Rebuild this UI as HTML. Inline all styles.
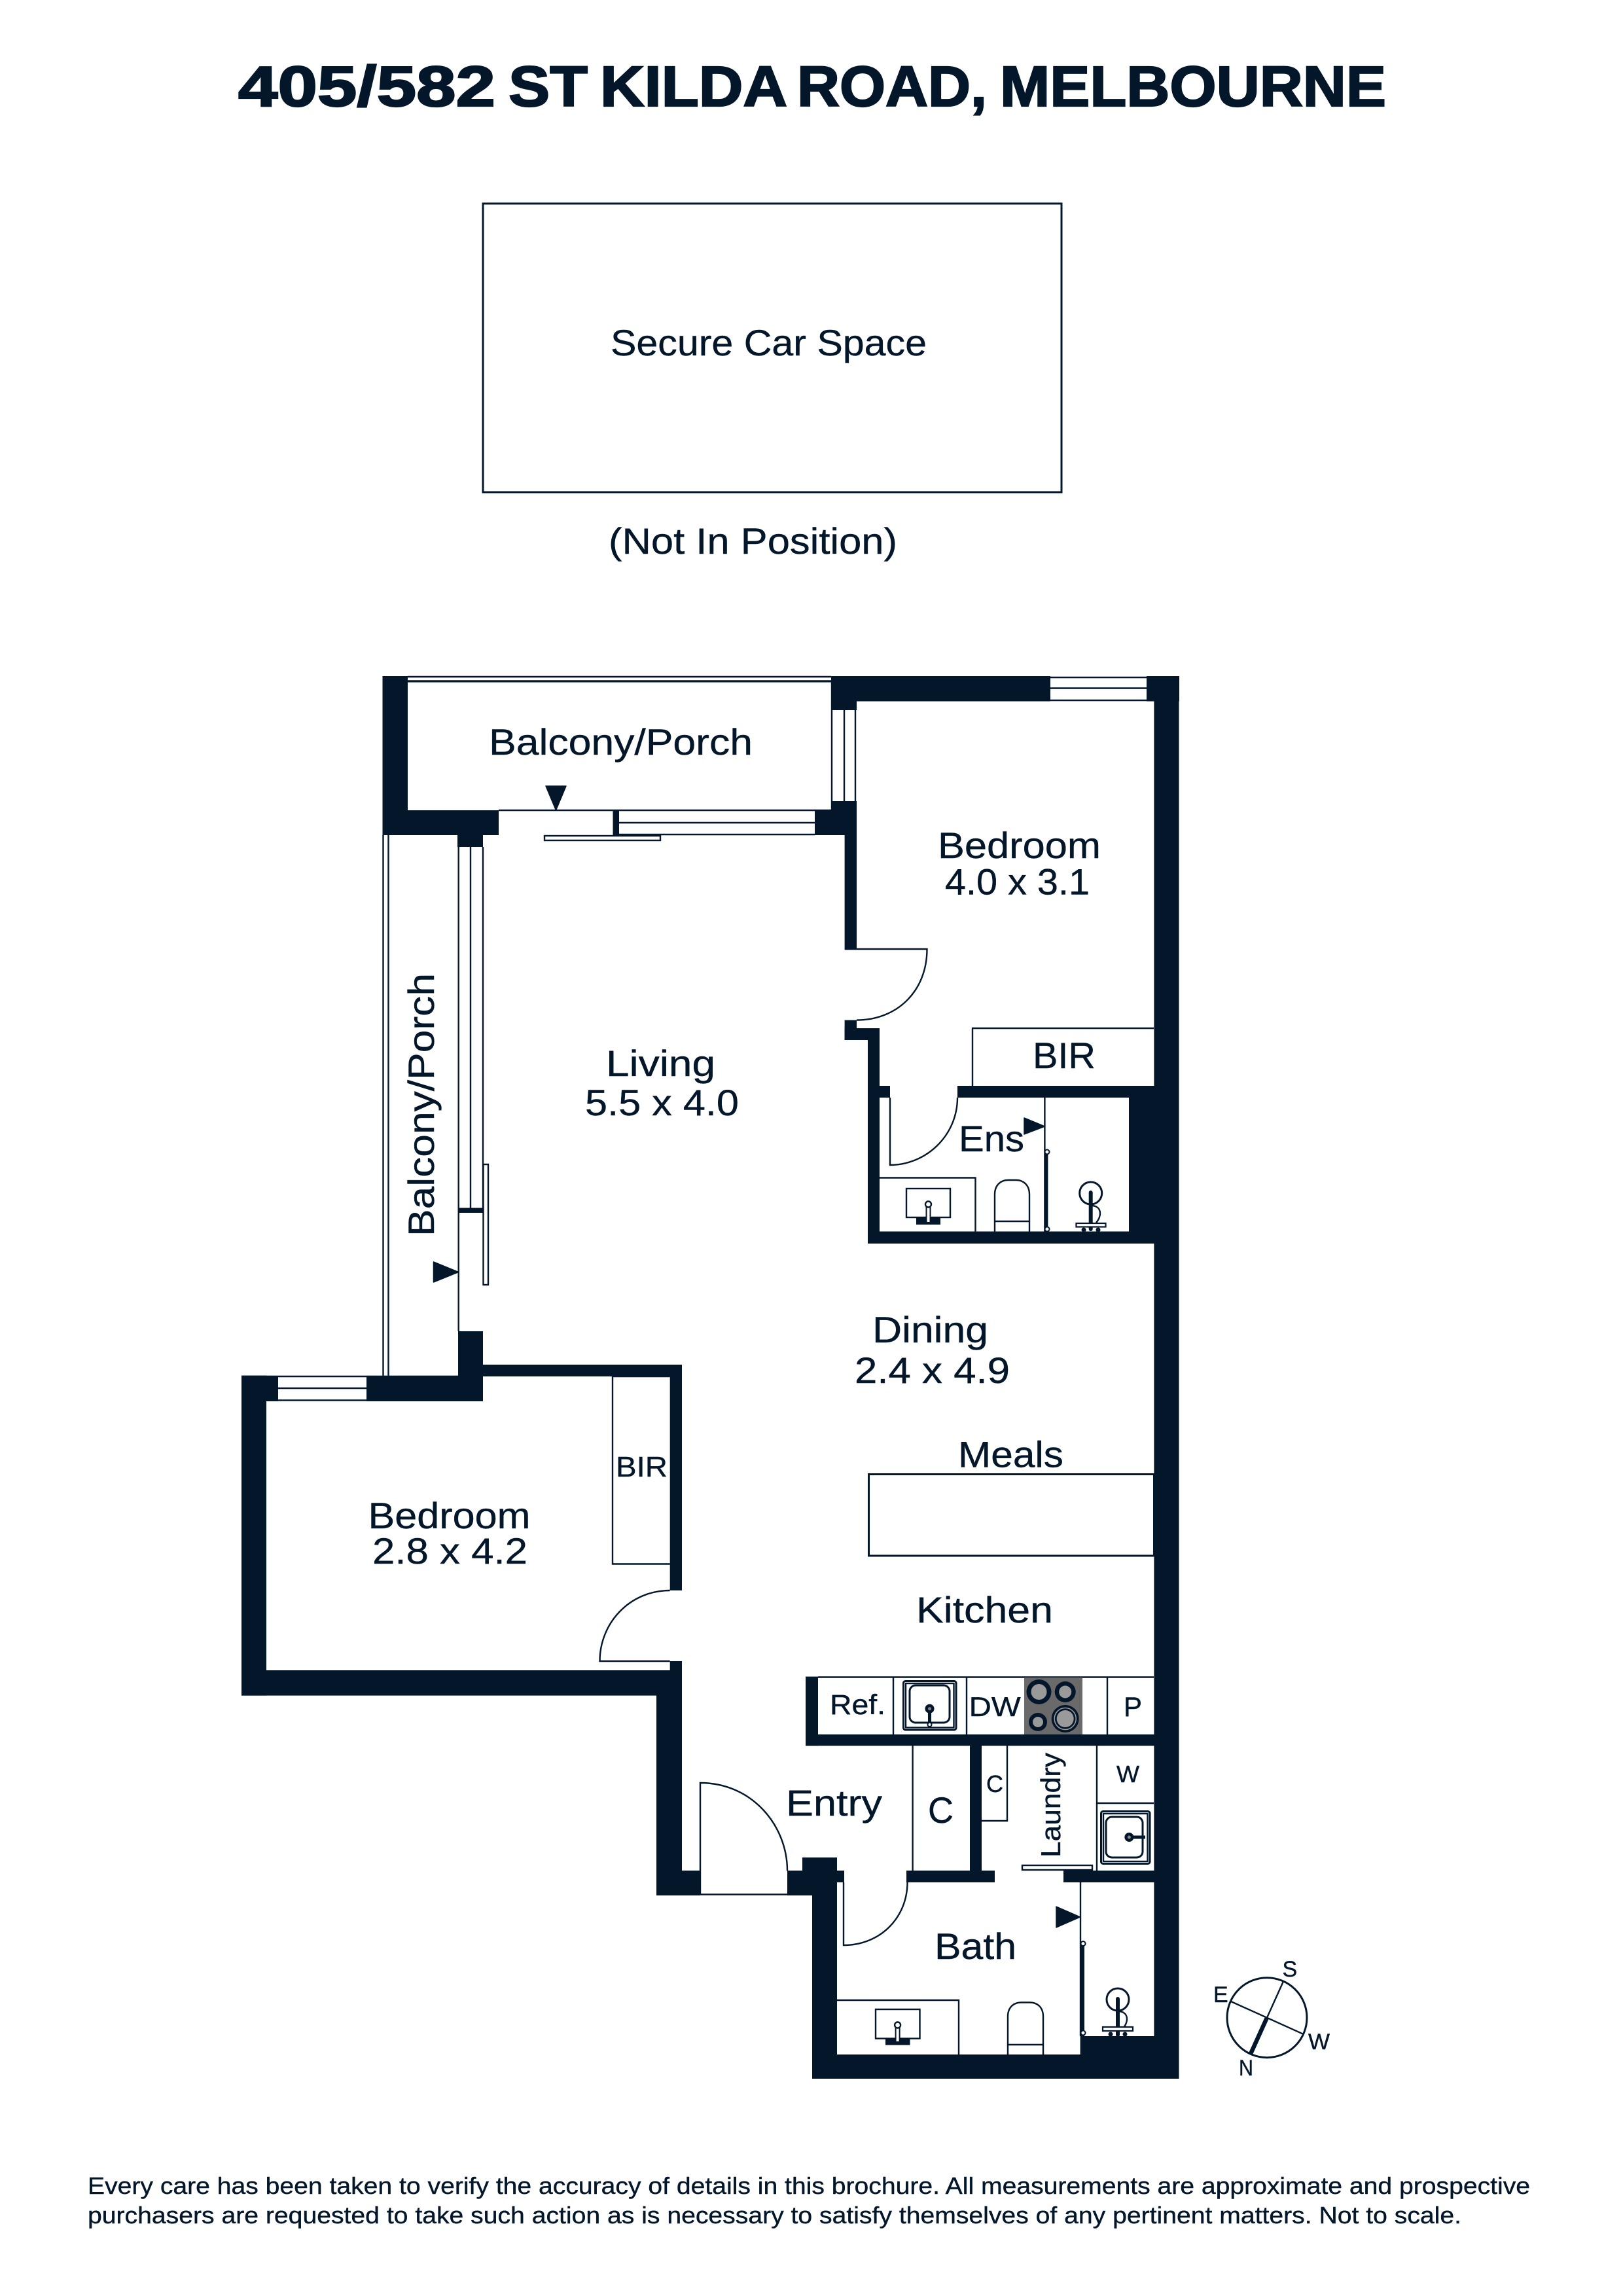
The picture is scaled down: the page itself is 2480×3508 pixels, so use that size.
<!DOCTYPE html>
<html><head><meta charset="utf-8"><title>405/582 St Kilda Road, Melbourne</title>
<style>
html,body{margin:0;padding:0;background:#fff;width:2480px;height:3508px;overflow:hidden}
svg{display:block}
text{font-family:"Liberation Sans",sans-serif;fill:#04172a;stroke:#04172a;stroke-width:.4}
.w rect{fill:#04172a}
.l{fill:none;stroke:#04172a;stroke-width:3}
.t{fill:none;stroke:#04172a;stroke-width:2.4}
</style></head><body>
<svg xmlns="http://www.w3.org/2000/svg" width="2480" height="3508" viewBox="0 0 2480 3508">
<rect width="2480" height="3508" fill="#fff"/>
<g font-size="87" font-weight="700" style="stroke-width:2.2">
<text x="364" y="162" textLength="393" lengthAdjust="spacingAndGlyphs" style="stroke-width:2.2">405/582</text>
<text x="777" y="162" textLength="121" lengthAdjust="spacingAndGlyphs" style="stroke-width:2.2">ST</text>
<text x="917" y="162" textLength="286" lengthAdjust="spacingAndGlyphs" style="stroke-width:2.2">KILDA</text>
<text x="1218" y="162" textLength="290" lengthAdjust="spacingAndGlyphs" style="stroke-width:2.2">ROAD,</text>
<text x="1528" y="162" textLength="590" lengthAdjust="spacingAndGlyphs" style="stroke-width:2.2">MELBOURNE</text>
</g>
<rect class="l" x="738" y="311" width="884" height="441"/>
<text x="933" y="543" font-size="56" textLength="483" lengthAdjust="spacingAndGlyphs">Secure Car Space</text>
<text x="930" y="846" font-size="56" textLength="441" lengthAdjust="spacingAndGlyphs">(Not In Position)</text>

<g class="w">
<rect x="584.5" y="1033" width="38.5" height="243"/>
<rect x="584.5" y="1238" width="177.5" height="38"/>
<rect x="699" y="1270" width="39" height="24"/>
<rect x="1270" y="1033" width="335" height="38.5"/>
<rect x="1752" y="1033" width="50" height="38.5"/>
<rect x="1270" y="1033" width="39" height="52"/>
<rect x="1270" y="1224" width="39" height="52"/>
<rect x="1245" y="1238" width="64" height="38"/>
<rect x="1290.6" y="1270" width="18.4" height="180"/>
<rect x="1763.4" y="1033" width="38.1" height="2143"/>
<rect x="1290.6" y="1558.6" width="18.4" height="30.4"/>
<rect x="1290.6" y="1571" width="53.4" height="18"/>
<rect x="1326" y="1580" width="18" height="320"/>
<rect x="1326" y="1881.5" width="445" height="18.5"/>
<rect x="1340" y="1659" width="20" height="18"/>
<rect x="1463" y="1659" width="305" height="18"/>
<rect x="1725" y="1659" width="45" height="230"/>

<rect x="700" y="2034" width="38" height="107"/>
<rect x="560" y="2101.7" width="178" height="39.3"/>
<rect x="369" y="2101.7" width="56" height="39.3"/>
<rect x="730" y="2085" width="312" height="18"/>
<rect x="1023.7" y="2085" width="18.3" height="345"/>
<rect x="369" y="2101.7" width="38" height="488.9"/>
<rect x="369" y="2552" width="673" height="38.6"/>
<rect x="1023.7" y="2538" width="18.3" height="20"/>
<rect x="1003" y="2585" width="39" height="311"/>
<rect x="1003" y="2858" width="67" height="38"/>
<rect x="1203" y="2858" width="45" height="38"/>
<rect x="1226" y="2838" width="53" height="30"/>
<rect x="1241" y="2858" width="38" height="318"/>
<rect x="1270" y="2858" width="20" height="18"/>
<rect x="1241" y="3139" width="560.5" height="37"/>
<rect x="1650.6" y="3111" width="120" height="35"/>
<rect x="1385" y="2858" width="135" height="18"/>
<rect x="1625" y="2858" width="145" height="18"/>
<rect x="1231" y="2561.6" width="19" height="105.8"/>
<rect x="1231" y="2650" width="538" height="17.4"/>
<rect x="1482" y="2660" width="18" height="205"/>
</g>

<!-- balcony glazing -->
<path class="t" d="M623 1034H1270M623 1040.5H1270"/>
<path class="l" d="M623 1041H1270" stroke-width="2"/>
<path class="t" d="M1271 1041V1238H762"/>
<path class="t" d="M1290 1085V1224M1307 1085V1224"/>
<rect x="936.5" y="1238" width="9.5" height="38" fill="#04172a"/>
<path class="t" d="M946 1257H1245M946 1275H1245"/>
<rect class="t" x="832" y="1277" width="177" height="7"/>
<path d="M834 1201H865L849.5 1238Z" fill="#04172a" stroke="#04172a" stroke-width="1.5" stroke-linejoin="round"/>

<!-- side balcony -->
<path class="t" d="M585.5 1276V2102M593.5 1276V2102"/>
<path class="t" d="M700.7 1294V2034M719 1294V1846M738 1294V1846"/>
<rect x="700.7" y="1845.5" width="37.3" height="7.5" fill="#04172a"/>
<rect class="t" x="738.5" y="1779" width="7.5" height="184"/>
<path d="M662.5 1928V1959L700.7 1943.6Z" fill="#04172a" stroke="#04172a" stroke-width="1.5" stroke-linejoin="round"/>

<!-- windows -->
<path class="t" d="M1605 1051.5H1752M1605 1070H1752M1605 1035H1752"/>
<path class="t" d="M425 2103H560M425 2121H560M425 2139.5H560"/>

<!-- bedroom 1 door, BIR -->
<path class="t" d="M1290.6 1450H1416.5C1416.5 1515 1370 1558.6 1309 1558.6"/>
<path class="t" d="M1486 1659V1571H1763"/>
<!-- ensuite -->
<path class="t" d="M1360 1677V1780C1415 1780 1463 1735 1463 1677"/>
<path class="t" d="M1596.4 1677V1882"/>
<rect x="1596.4" y="1757.4" width="5" height="124" fill="#04172a"/>
<circle cx="1600" cy="1760" r="3.5" fill="#fff" stroke="#04172a" stroke-width="2"/>
<circle cx="1600" cy="1878" r="3.5" fill="#fff" stroke="#04172a" stroke-width="2"/>
<path d="M1565 1708V1733L1596.4 1721Z" fill="#04172a" stroke="#04172a" stroke-width="1.5" stroke-linejoin="round"/>
<path class="t" d="M1344 1799.5H1490.5V1882"/>
<rect class="t" x="1385" y="1816" width="67" height="44"/>
<rect x="1400" y="1860" width="37" height="11" fill="#04172a"/>
<rect x="1415.5" y="1842" width="6" height="26" fill="#fff" stroke="#04172a" stroke-width="2"/>
<circle cx="1418.5" cy="1840" r="4.5" fill="#fff" stroke="#04172a" stroke-width="2.4"/>
<path class="t" d="M1520 1882V1825C1520 1810 1530 1803 1540 1803H1553C1563 1803 1573 1810 1573 1825V1882M1520 1866H1573"/>
<circle class="l" cx="1666.7" cy="1823" r="17"/>
<path d="M1666.7 1822V1878" stroke="#04172a" stroke-width="6" stroke-linecap="round"/>
<path class="t" d="M1667 1842C1684 1842 1684 1858 1675 1868"/>
<rect x="1644.5" y="1869" width="45" height="5.5" fill="#fff" stroke="#04172a" stroke-width="2.2"/>
<circle cx="1656" cy="1879" r="3.5" fill="#04172a"/><circle cx="1678" cy="1879" r="3.5" fill="#04172a"/>

<!-- bedroom 2 door, BIR -->
<path class="t" d="M1023.7 2103H936V2389.5H1023.7"/>
<path class="t" d="M1023.7 2430C962 2430 916.5 2480 916.5 2538H1023.7"/>

<!-- island & kitchen -->
<rect class="l" x="1327.5" y="2252.5" width="436" height="124.5"/>
<path class="t" d="M1250 2562.5H1763M1365 2562.5V2650M1477 2562.5V2650M1692 2562.5V2650"/>
<rect class="l" x="1380.5" y="2568.5" width="80.5" height="74.5" rx="3"/>
<rect class="t" x="1384" y="2572" width="73.5" height="67.5"/>
<rect class="l" x="1390" y="2575" width="61" height="57" rx="9"/>
<path d="M1420.5 2612V2634" stroke="#04172a" stroke-width="5"/>
<circle cx="1420.5" cy="2610.7" r="7" fill="#04172a"/><circle cx="1420.5" cy="2610.7" r="2.5" fill="#888"/>
<circle cx="1420.5" cy="2635" r="3" fill="#fff" stroke="#04172a" stroke-width="2"/>
<rect x="1565" y="2563" width="89" height="87" fill="#6a6a6a"/>
<g fill="#04172a">
<circle cx="1587.5" cy="2585" r="19"/><circle cx="1627.7" cy="2585" r="16"/>
<circle cx="1586" cy="2631" r="14"/><circle cx="1627.7" cy="2626" r="21"/></g>
<g fill="#9a9a9a">
<circle cx="1587.5" cy="2585" r="12"/><circle cx="1627.7" cy="2585" r="9.5"/>
<circle cx="1586" cy="2631" r="8"/><circle cx="1627.7" cy="2626" r="13"/></g>
<circle cx="1627.7" cy="2626" r="16.5" fill="none" stroke="#9a9a9a" stroke-width="1.5"/>

<!-- entry, cupboards -->
<path class="t" d="M1394.6 2667V2858"/>
<path class="t" d="M1500 2782H1539V2667"/>
<path class="t" d="M1070 2895V2724C1150 2724 1203 2790 1203 2858M1070 2894.5H1203"/>
<path class="t" d="M1676 2667V2858M1676 2755H1763"/>
<rect class="l" x="1682.5" y="2767.5" width="74.5" height="80" rx="3"/>
<rect class="t" x="1686" y="2771" width="67.5" height="73"/>
<rect class="l" x="1690" y="2776" width="56" height="62" rx="9"/>
<path d="M1726 2807H1750" stroke="#04172a" stroke-width="5"/>
<circle cx="1725.4" cy="2807" r="7" fill="#04172a"/><circle cx="1725.4" cy="2807" r="2.5" fill="#888"/>
<rect class="t" x="1562" y="2850" width="107" height="7"/>

<!-- bath -->
<path class="t" d="M1289 2876V2972C1345 2972 1386.5 2930 1386.5 2876"/>
<path class="t" d="M1651 2876V3111"/>
<rect x="1651" y="2966" width="6" height="145" fill="#04172a"/>
<circle cx="1655" cy="2969.6" r="3.5" fill="#fff" stroke="#04172a" stroke-width="2"/>
<circle cx="1655" cy="3106" r="3.5" fill="#fff" stroke="#04172a" stroke-width="2"/>
<path d="M1614 2913V2945L1650.6 2929Z" fill="#04172a" stroke="#04172a" stroke-width="1.5" stroke-linejoin="round"/>
<path class="t" d="M1279 3056H1465V3139"/>
<rect class="t" x="1338" y="3070" width="67.5" height="44.6"/>
<rect x="1353" y="3114.6" width="37.5" height="10" fill="#04172a"/>
<rect x="1368.6" y="3096" width="6" height="24" fill="#fff" stroke="#04172a" stroke-width="2"/>
<circle cx="1371.6" cy="3094" r="4.5" fill="#fff" stroke="#04172a" stroke-width="2.4"/>
<path class="t" d="M1540 3139V3081C1540 3066 1550 3059.5 1560 3059.5H1574C1584 3059.5 1594 3066 1594 3081V3139M1540 3124H1594"/>
<circle class="l" cx="1708" cy="3055" r="17"/>
<path d="M1708 3054V3109" stroke="#04172a" stroke-width="6" stroke-linecap="round"/>
<path class="t" d="M1708 3073C1725 3073 1725 3089 1716 3099"/>
<rect x="1685" y="3097" width="46" height="6" fill="#fff" stroke="#04172a" stroke-width="2.2"/>
<circle cx="1697" cy="3108" r="3.5" fill="#04172a"/><circle cx="1719" cy="3108" r="3.5" fill="#04172a"/>

<!-- labels -->
<g font-size="56">
<text x="747" y="1153" textLength="403" lengthAdjust="spacingAndGlyphs">Balcony/Porch</text>
<text x="663" y="1889" textLength="402" lengthAdjust="spacingAndGlyphs" transform="rotate(-90 663 1889)">Balcony/Porch</text>
<text x="926" y="1644" textLength="167" lengthAdjust="spacingAndGlyphs">Living</text>
<text x="894" y="1704" textLength="235" lengthAdjust="spacingAndGlyphs">5.5 x 4.0</text>
<text x="1433" y="1311" textLength="249" lengthAdjust="spacingAndGlyphs">Bedroom</text>
<text x="1444" y="1366.5" textLength="221" lengthAdjust="spacingAndGlyphs">4.0 x 3.1</text>
<text x="1578" y="1632" textLength="96" lengthAdjust="spacingAndGlyphs">BIR</text>
<text x="1465" y="1759" textLength="100" lengthAdjust="spacingAndGlyphs">Ens</text>
<text x="1333" y="2051" textLength="177" lengthAdjust="spacingAndGlyphs">Dining</text>
<text x="1306" y="2113" textLength="237" lengthAdjust="spacingAndGlyphs">2.4 x 4.9</text>
<text x="1464" y="2241.5" textLength="161" lengthAdjust="spacingAndGlyphs">Meals</text>
<text x="1400" y="2479" textLength="209" lengthAdjust="spacingAndGlyphs">Kitchen</text>
<text x="562.5" y="2335" textLength="248" lengthAdjust="spacingAndGlyphs">Bedroom</text>
<text x="569" y="2389" textLength="237" lengthAdjust="spacingAndGlyphs">2.8 x 4.2</text>
<text x="1201" y="2774" textLength="147" lengthAdjust="spacingAndGlyphs">Entry</text>
<text x="1418" y="2785" textLength="39" lengthAdjust="spacingAndGlyphs">C</text>
<text x="1428" y="2993" textLength="125" lengthAdjust="spacingAndGlyphs">Bath</text>
</g>
<text x="941" y="2256" font-size="44" textLength="79" lengthAdjust="spacingAndGlyphs">BIR</text>
<text x="1268" y="2619" font-size="43" textLength="85" lengthAdjust="spacingAndGlyphs">Ref.</text>
<text x="1480.6" y="2622" font-size="42" textLength="79" lengthAdjust="spacingAndGlyphs">DW</text>
<text x="1717" y="2622" font-size="42" textLength="28" lengthAdjust="spacingAndGlyphs">P</text>
<text x="1507" y="2738" font-size="36" textLength="26" lengthAdjust="spacingAndGlyphs">C</text>
<text x="1706" y="2723" font-size="36" textLength="35" lengthAdjust="spacingAndGlyphs">W</text>
<text x="1620" y="2838" font-size="42" textLength="160" lengthAdjust="spacingAndGlyphs" transform="rotate(-90 1620 2838)">Laundry</text>

<!-- compass -->
<circle class="l" cx="1936" cy="3082.7" r="61" stroke-width="2.6"/>
<path class="t" d="M1960.7 3028L1936 3082.7M1881 3058L1991 3107.7"/>
<path d="M1936 3082.7L1911 3138" stroke="#04172a" stroke-width="6.5"/>
<g font-size="34">
<text x="1959.5" y="3020">S</text>
<text x="1854" y="3059">E</text>
<text x="1999" y="3131" textLength="33" lengthAdjust="spacingAndGlyphs">W</text>
<text x="1893" y="3171" textLength="22" lengthAdjust="spacingAndGlyphs">N</text>
</g>

<text x="134" y="3352" font-size="36" textLength="2204" lengthAdjust="spacingAndGlyphs">Every care has been taken to verify the accuracy of details in this brochure. All measurements are approximate and prospective</text>
<text x="134" y="3397" font-size="36" textLength="2099" lengthAdjust="spacingAndGlyphs">purchasers are requested to take such action as is necessary to satisfy themselves of any pertinent matters. Not to scale.</text>
</svg>
</body></html>
